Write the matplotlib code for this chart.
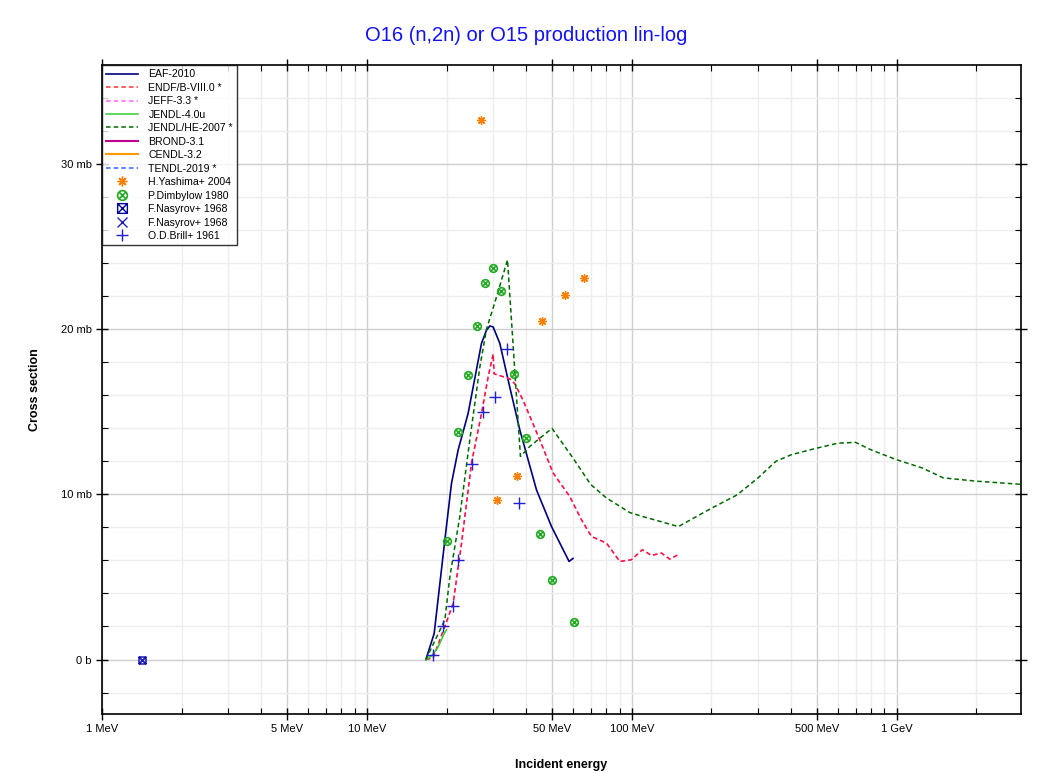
# O16 (n,2n) / O15 production, lin-log

import matplotlib
matplotlib.use("Agg")
import matplotlib.pyplot as plt
from matplotlib.path import Path
from matplotlib.ticker import FixedLocator, FuncFormatter, NullFormatter
import numpy as np

plt.rcParams['font.family'] = ['Liberation Sans', 'DejaVu Sans']

# evaluated curves: energy (MeV), cross section (mb)
eaf_e = [16.7, 17.95, 19.7, 20.87, 22.11, 24.12, 27.09, 28.29, 29.12, 29.97,
         31.77, 34.4, 37.8, 43.7, 49.8, 58.0, 60.0]
eaf_s = [0.0, 1.57, 7.25, 10.67, 12.69, 14.91, 19.15, 19.94, 20.2, 20.14,
         19.14, 16.7, 13.9, 10.27, 8.05, 5.94, 6.12]

endf_e = [16.7, 17.79, 19.7, 21.17, 22.78, 24.84, 27.09, 28.69, 29.97, 30.23,
          34.65, 36.18, 38.89, 44.97, 50.47, 58.35, 64.6, 70.5, 80.3, 90.1,
          99.7, 109.7, 118.7, 129.5, 139.1, 149.5]
endf_s = [0.0, 0.1, 2.0, 3.4, 7.05, 11.9, 14.9, 17.1, 18.5, 17.3,
          17.0, 16.7, 15.7, 13.3, 11.3, 9.87, 8.46, 7.45, 7.05, 5.94,
          6.04, 6.65, 6.3, 6.45, 6.08, 6.34]

jendl4_e = [16.7, 17.5, 18.5, 19.5, 20.0]
jendl4_s = [0.0, 0.2, 0.7, 1.5, 1.8]

jendlhe_e = [16.7, 19.7, 20.57, 22.43, 24.47, 26.69, 28.29, 30.86, 33.96, 38.0,
             41.2, 50.0, 60.0, 70.0, 80.0, 98.3, 110.0, 150.0, 200.0, 250.0,
             300.0, 350.0, 400.0, 500.0, 600.0, 700.0, 800.0, 1000.0, 1250.0,
             1500.0, 2000.0, 3000.0]
jendlhe_s = [0.0, 2.4, 5.0, 8.66, 13.3, 17.7, 20.0, 21.95, 24.2, 12.3,
             12.9, 14.0, 12.2, 10.6, 9.8, 8.9, 8.66, 8.05, 9.16, 9.97,
             11.0, 12.0, 12.4, 12.8, 13.1, 13.15, 12.7, 12.1, 11.6,
             11.0, 10.8, 10.6]

# measurements
yashima_e = [27.0, 31.0, 36.9, 45.9, 55.9, 65.9]
yashima_s = [32.7, 9.67, 11.1, 20.5, 22.1, 23.1]

dimbylow_e = [20.0, 22.0, 24.0, 26.0, 28.0, 30.0, 32.0, 36.0, 40.0, 45.0, 50.0, 60.6]
dimbylow_s = [7.2, 13.8, 17.2, 20.2, 22.8, 23.73, 22.3, 17.3, 13.4, 7.6, 4.8, 2.3]

nasyrov_e = [1.416]
nasyrov_s = [0.0]

brill_e = [17.79, 19.41, 21.17, 22.0, 24.84, 27.47, 30.4, 33.96, 37.5]
brill_s = [0.3, 2.05, 3.22, 6.0, 11.84, 15.0, 15.9, 18.83, 9.5]

x_major = [1, 5, 10, 50, 100, 500, 1000]
x_minor = [2, 3, 4, 6, 7, 8, 9, 20, 30, 40, 60, 70, 80, 90,
           200, 300, 400, 600, 700, 800, 900, 2000, 3000]
y_major = [0, 10, 20, 30]


def xlab(v, pos):
    if v >= 1000:
        return "%g GeV" % (v / 1000.0)
    return "%g MeV" % v


def ylab(v, pos):
    if v == 0:
        return "0 b"
    return "%g mb" % v


# markers: circle with cross, box with cross
xp = Path([(-0.7, -0.7), (0.7, 0.7), (-0.7, 0.7), (0.7, -0.7)],
          [Path.MOVETO, Path.LINETO, Path.MOVETO, Path.LINETO])
circx = Path.make_compound_path(Path.unit_circle(), xp)
sq = Path([(-1, -1), (1, -1), (1, 1), (-1, 1), (-1, -1)],
          [Path.MOVETO, Path.LINETO, Path.LINETO, Path.LINETO, Path.CLOSEPOLY])
xp2 = Path([(-1, -1), (1, 1), (-1, 1), (1, -1)],
           [Path.MOVETO, Path.LINETO, Path.MOVETO, Path.LINETO])
boxx = Path.make_compound_path(sq, xp2)

fig = plt.figure(figsize=(10.53, 7.74), dpi=100)
ax = fig.add_axes([0.0969, 0.0775, 0.8727, 0.8385])

dash = (0, (3, 2))
ax.plot(eaf_e, eaf_s, color='#000080', lw=1.2, label='EAF-2010', zorder=3)
ax.plot(endf_e, endf_s, color='#ff66ff', lw=1.1, ls=dash, zorder=3)
ax.plot(endf_e, endf_s, color='#ff0000', lw=1.1, ls=dash, alpha=0.8,
        label='ENDF/B-VIII.0 *', zorder=3)
ax.plot([], [], color='#ff66ff', lw=1.1, ls=dash, label='JEFF-3.3 *')
ax.plot(jendl4_e, jendl4_s, color='#33cc33', lw=1.1, label='JENDL-4.0u', zorder=3)
ax.plot(jendlhe_e, jendlhe_s, color='#006a00', lw=1.1, ls=dash,
        label='JENDL/HE-2007 *', zorder=3)
ax.plot([], [], color='#c0008f', lw=1.5, label='BROND-3.1')
ax.plot([], [], color='#ff9900', lw=1.5, label='CENDL-3.2')
ax.plot([], [], color='#3366ff', lw=1.1, ls=dash, label='TENDL-2019 *')

ax.plot(yashima_e, yashima_s, ls='none', marker=(8, 2, 0), ms=6, mew=1.0,
        color='#ff7f00', label='H.Yashima+ 2004', zorder=4)
ax.plot(dimbylow_e, dimbylow_s, ls='none', marker=circx, ms=5.5, mew=1.2,
        mfc='none', color='#22aa22', label='P.Dimbylow 1980', zorder=4)
ax.plot(nasyrov_e, nasyrov_s, ls='none', marker=boxx, ms=5, mew=1.0,
        mfc='none', color='#0000a0', label='F.Nasyrov+ 1968', zorder=4)
ax.plot(nasyrov_e, nasyrov_s, ls='none', marker='x', ms=5, mew=1.0,
        color='#2020c0', label='F.Nasyrov+ 1968', zorder=4)
ax.plot(brill_e, brill_s, ls='none', marker='+', ms=8, mew=1.0,
        color='#2020d0', label='O.D.Brill+ 1961', zorder=4)

ax.set_xscale('log')
ax.set_xlim(1, 2950)
ax.set_ylim(-3.3, 36)

ax.xaxis.set_major_locator(FixedLocator(x_major))
ax.xaxis.set_minor_locator(FixedLocator(x_minor))
ax.xaxis.set_major_formatter(FuncFormatter(xlab))
ax.xaxis.set_minor_formatter(NullFormatter())
ax.yaxis.set_major_locator(FixedLocator(y_major))
ax.yaxis.set_minor_locator(FixedLocator(np.arange(-2, 36, 2)))
ax.yaxis.set_major_formatter(FuncFormatter(ylab))

ax.grid(which='major', color='#cfcfcf', lw=1.0, zorder=0)
ax.grid(which='minor', color='#eeeeee', lw=1.0, zorder=0)
ax.set_axisbelow(True)

ax.tick_params(which='major', direction='inout', length=8, width=1,
               labelsize=8, top=True, right=True)
ax.tick_params(which='minor', direction='in', length=4, width=0.8,
               top=True, right=True)
for s in ax.spines.values():
    s.set_linewidth(1.2)

ax.set_xlabel('Incident energy', fontsize=9, fontweight='bold', labelpad=18)
ax.set_ylabel('Cross section', fontsize=9, fontweight='bold', labelpad=14)
fig.suptitle('O16 (n,2n) or O15 production lin-log', color='#1010ff',
             fontsize=14.5, y=0.966)

leg = ax.legend(loc='upper left', fontsize=7.6, frameon=True, fancybox=False,
                edgecolor='black', borderaxespad=0, labelspacing=0.33,
                handlelength=3.0, handletextpad=1.0, borderpad=0.4)
leg.get_frame().set_linewidth(1.0)
for h in leg.legend_handles:
    if h.get_marker() not in (None, 'None', 'none', ''):
        h.set_markersize(7 if h.get_marker() != '+' else 9)

fig.savefig('out.png', dpi=100, facecolor='white')
